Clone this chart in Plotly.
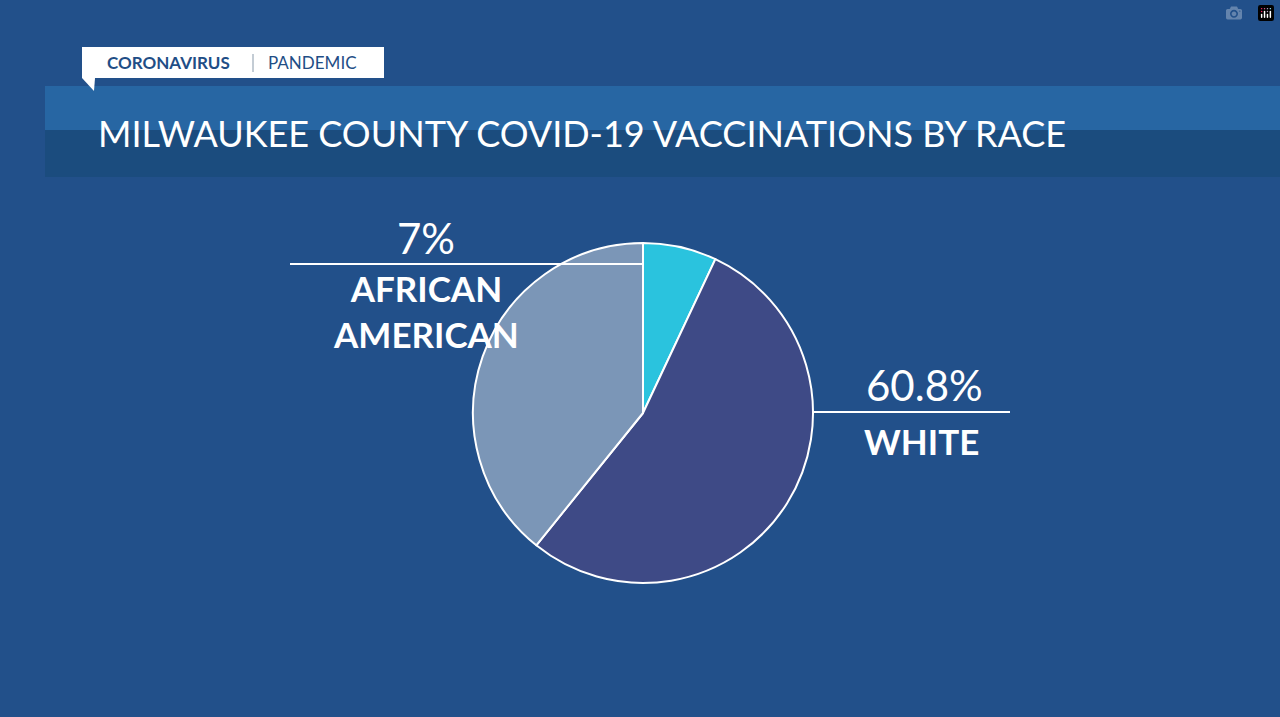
import plotly.graph_objects as go

categories = ["African American", "White", "Other"]
slice_values = [7.0, 53.8, 39.2]   # slice sizes as drawn in the picture
label_texts = ["7%", "60.8%"]
colors = ["#2ac3de", "#3e4a86", "#7b96b7"]

W, H = 1280, 717
def px(x): return x / W
def py(y): return 1 - y / H

fig = go.Figure(go.Pie(
    labels=categories, values=slice_values, sort=False, direction="clockwise",
    rotation=0, marker=dict(colors=colors, line=dict(color="white", width=2)),
    textinfo="none", hoverinfo="skip", showlegend=False,
    domain=dict(x=[px(643-170), px(643+170)], y=[py(583), py(243)])))

shapes = [
    dict(type="rect", xref="paper", yref="paper", x0=px(45), x1=1, y0=py(130), y1=py(86),
         line_width=0, fillcolor="#2766a3", layer="below"),
    dict(type="rect", xref="paper", yref="paper", x0=px(45), x1=1, y0=py(177), y1=py(130),
         line_width=0, fillcolor="#1b4c7e", layer="below"),
    dict(type="rect", xref="paper", yref="paper", x0=px(82), x1=px(384), y0=py(78), y1=py(47),
         line_width=0, fillcolor="white"),
    dict(type="path", xref="paper", yref="paper",
         path=f"M {px(82)},{py(78)} L {px(95)},{py(78)} L {px(94)},{py(91)} Z",
         line_width=0, fillcolor="white"),
    dict(type="line", xref="paper", yref="paper", x0=px(253), x1=px(253), y0=py(72), y1=py(54),
         line=dict(color="#8899aa", width=1)),
    dict(type="line", xref="paper", yref="paper", x0=px(290), x1=px(642), y0=py(264), y1=py(264),
         line=dict(color="white", width=2)),
    dict(type="line", xref="paper", yref="paper", x0=px(812), x1=px(1010), y0=py(412), y1=py(412),
         line=dict(color="white", width=2)),
]

F = "Lato"
def ann(x, y, t, size, bold=False, color="white", xanchor="center"):
    return dict(x=px(x), y=py(y), xref="paper", yref="paper", showarrow=False,
                xanchor=xanchor, yanchor="middle", text=f"<b>{t}</b>" if bold else t,
                font=dict(family=F, size=size, color=color))

annotations = [
    ann(105, 62, "CORONAVIRUS", 17, True, "#1f4e86", "left"),
    ann(266, 62, "PANDEMIC", 17, False, "#1f4e86", "left"),
    ann(96, 133, "MILWAUKEE COUNTY COVID-19 VACCINATIONS BY RACE", 36, False, "white", "left"),
    ann(426, 238, label_texts[0], 42),
    ann(426, 311, "AFRICAN<br>AMERICAN", 35, True),
    ann(924, 385, label_texts[1], 42),
    ann(921, 441, "WHITE", 35, True),
]

fig.update_layout(width=W, height=H, margin=dict(l=0, r=0, t=0, b=0),
                  paper_bgcolor="#22508a", plot_bgcolor="#22508a",
                  shapes=shapes, annotations=annotations)
fig.write_html("out.html")
with open("out.html", encoding="utf-8") as f:
    html = f.read()
html = html.replace("<body>", '<body style="margin:0;background:#22508a">', 1)
with open("out.html", "w", encoding="utf-8") as f:
    f.write(html)
